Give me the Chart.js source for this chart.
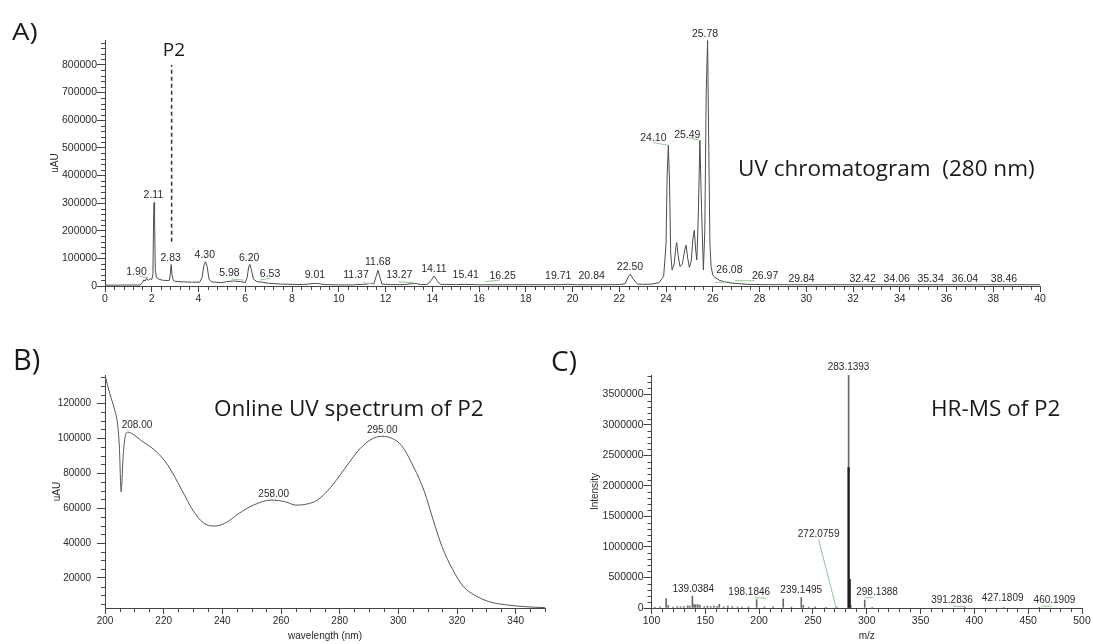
<!DOCTYPE html>
<html><head><meta charset="utf-8">
<script src="https://cdn.jsdelivr.net/npm/chart.js@4/dist/chart.umd.min.js"></script>
<style>
html,body{margin:0;padding:0;background:#fff;width:1093px;height:644px;overflow:hidden;position:relative}
canvas{position:absolute;z-index:0}
.big{position:absolute;z-index:2;font-family:"Open Sans",sans-serif;color:#1a1a1a;white-space:nowrap;line-height:1.4;padding-top:0}
</style></head><body>
<canvas id="cA" width="1093" height="320" style="left:0;top:0"></canvas>
<canvas id="cB" width="560" height="314" style="left:0;top:330px"></canvas>
<canvas id="cC" width="533" height="314" style="left:560px;top:330px"></canvas>
<div class="big" style="left:12px;top:15.2px;font-size:23px;transform-origin:0 50%;transform:scaleX(1.2)">A)</div>
<div class="big" style="left:13px;top:338.5px;font-size:29px">B)</div>
<div class="big" style="left:551px;top:341.2px;font-size:28px">C)</div>
<div class="big" style="left:738px;top:151.5px;font-size:22.5px">UV chromatogram&nbsp;&nbsp;(280 nm)</div>
<div class="big" style="left:214px;top:392.2px;font-size:22.5px">Online UV spectrum of P2</div>
<div class="big" style="left:931px;top:392.2px;font-size:22.5px">HR-MS of P2</div>
<script>
// ---------- Panel A: UV chromatogram (280 nm) ----------
const chromTime = [0,1.5,1.6,1.66,1.72,1.78,1.85,1.92,2.0,2.05,2.08,2.10,2.12,2.15,2.2,2.3,2.45,2.6,2.75,2.79,2.83,2.87,2.92,3.0,3.3,3.7,4.05,4.15,4.23,4.30,4.37,4.45,4.55,5.0,5.2,5.5,5.8,6.0,6.08,6.15,6.20,6.26,6.35,6.5,6.7,7.0,7.5,8.0,8.5,8.9,9.1,9.4,10,10.6,11.2,11.4,11.5,11.6,11.68,11.75,11.85,12.2,12.8,13.1,13.3,13.5,13.8,13.95,14.08,14.2,14.35,15.0,15.4,16.0,17,18,19.5,19.8,20.2,21,22.0,22.25,22.4,22.47,22.6,22.78,23.0,23.4,23.7,23.9,24.0,24.05,24.10,24.15,24.2,24.26,24.35,24.42,24.46,24.52,24.6,24.7,24.8,24.86,24.93,25.0,25.08,25.15,25.21,25.27,25.32,25.38,25.45,25.52,25.6,25.66,25.72,25.78,25.83,25.88,25.93,26.0,26.1,26.3,26.6,27.0,27.5,28.0,30,35,40];
const chromUAU = [3000,3500,12000,22000,18000,28000,20000,26000,24000,40000,250000,302000,260000,60000,30000,25000,21000,20000,20000,40000,78000,40000,20000,17000,15000,14000,14000,30000,75000,88000,70000,25000,15000,12000,16000,18000,16000,12000,30000,70000,78000,60000,25000,16000,14000,10000,7000,6000,5000,9000,9000,5000,4000,4000,7000,10000,8000,35000,57000,35000,7000,5000,5000,8000,9000,5000,6000,20000,36000,20000,6000,5000,6000,4500,4500,4500,5000,6000,4500,4500,5000,8000,35000,43000,25000,7000,6000,7000,12000,35000,150000,400000,509000,380000,120000,58000,80000,140000,157000,110000,70000,80000,130000,148000,100000,67000,90000,170000,202000,130000,94000,250000,527000,280000,58000,200000,700000,888000,500000,150000,70000,40000,30000,20000,13000,9000,6000,5000,4500,4500,4500];
const chromLabelText = ['1.90','2.11','2.83','4.30','5.98','6.20','6.53','9.01','11.37','11.68','13.27','14.11','15.41','16.25','19.71','20.84','22.50','24.10','25.49','25.78','26.08','26.97','29.84','32.42','34.06','35.34','36.04','38.46'];
const chromLabelTime = [1.35,2.07,2.81,4.27,5.32,6.17,7.06,8.98,10.74,11.67,12.59,14.07,15.43,17.01,19.39,20.82,22.46,23.46,24.91,25.67,26.71,28.24,29.80,32.41,33.87,35.32,36.79,38.46];
const chromLabelUAU = [39700,320000,90000,102000,36000,90000,33600,29000,30000,76000,28000,52000,30000,24000,24000,24000,58000,523000,537000,902000,48000,24000,15500,15500,15500,15500,15500,15500];
// leader lines from a label to its peak: [time0, uAU0] -> [time1, uAU1]
const chromLeaderT0 = [1.45,5.42,6.63,11.05,12.55,16.26,23.46,24.95,26.10,26.95];
const chromLeaderV0 = [36000,25000,21600,12000,15500,15500,519000,537000,12000,19000];
const chromLeaderT1 = [1.85,5.92,7.06,11.55,13.19,16.90,24.10,25.45,26.67,27.80];
const chromLeaderV1 = [30000,21600,27800,6000,12000,21600,509000,527000,15500,19000];
const chromTimeTicks = [0,2,4,6,8,10,12,14,16,18,20,22,24,26,28,30,32,34,36,38,40];
const chromUAUTicks = [0,100000,200000,300000,400000,500000,600000,700000,800000];
const p2Time = 2.85, p2From = 160000, p2To = 800000;

// ---------- Panel B: online UV spectrum of P2 ----------
const specWavelength = [200,201.6,203.3,204.3,204.9,205.5,206.2,206.9,207.6,212.9,217.7,221.4,226.2,229.9,233.5,237.2,240.8,245.7,250.6,256.6,261.5,265.1,268.8,272.4,276.1,279.7,283.4,287,290.7,294.3,298,301,305.2,308.9,311.9,314.9,318.6,322.2,325.9,330.8,336.8,342.9,350];
const specUAU = [136000,125700,116200,108000,95000,69300,90000,101000,103500,98000,92000,84600,70300,58900,51600,49700,51200,57000,61700,64600,63600,61700,62300,64600,70300,77900,86500,94100,99300,101100,99800,96000,83600,69300,53100,37900,24600,15000,10300,6500,4600,3600,3000];
const specLabelText = ['208.00','258.00','295.00'];
const specLabelWl = [210.9,257.5,294.5];
const specLabelUAU = [105700,66500,103200];
const specWlTicks = [200,220,240,260,280,300,320,340];
const specUAUTicks = [20000,40000,60000,80000,100000,120000];

// ---------- Panel C: HR-MS of P2 ----------
const msMz = [103,108,113.6,115.5,120,124,127,130,133.6,135.5,138.0,139.5,141,143,145,149,152,155,158,161,163,167,171,175,180,184,190,197.7,205,213,222.4,230,239.2,241,246,252,262,272.1,283.14,285.1,298.14,305,391.3,427.2,460.2];
const msIntensity = [15000,20000,155000,40000,15000,25000,20000,25000,35000,30000,195000,60000,50000,55000,45000,25000,30000,25000,30000,25000,60000,20000,30000,25000,20000,15000,20000,140000,20000,20000,150000,15000,170000,45000,15000,20000,10000,15000,3818000,40000,130000,10000,10000,10000,10000];
const msDarkMz = [283.14,284.14];
const msDarkIntensity = [2300000,470000];
const msLabelText = ['283.1393','272.0759','139.0384','198.1846','239.1495','298.1388','391.2836','427.1809','460.1909'];
const msLabelMz = [283.1,255.3,138.8,190.8,239.1,309.6,379.2,426.3,474.4];
const msLabelIntensity = [3892000,1165000,262000,208000,246000,208000,88600,115000,88600];
const msLeaderMz0 = [255.3,196.0,298.5,380.0,462.0];
const msLeaderI0 = [1120000,170000,170000,30000,30000];
const msLeaderMz1 = [271.6,207.0,306.0,392.0,472.0];
const msLeaderI1 = [0,160000,170000,20000,30000];
const msMzTicks = [100,150,200,250,300,350,400,450,500];
const msIntensityTicks = [0,500000,1000000,1500000,2000000,2500000,3000000,3500000];

// ---------- helpers ----------
const FAM = '"Liberation Sans", Arial, sans-serif';
const TXT = '#2a2a2a', AX = '#444', LEAD = '#97c597';

function overlay(cfg){
  return {
    id:'overlay',
    afterDatasetsDraw(chart){
      const ctx = chart.ctx, xs = chart.scales.x, ys = chart.scales.y;
      ctx.save();
      ctx.strokeStyle = AX; ctx.lineWidth = 1;
      const minor = (min, max, step, major, fn) => {
        const start = Math.ceil(min/step - 1e-9);
        const end = Math.floor(max/step + 1e-9);
        for (let i = start; i <= end; i++) {
          const v = i*step;
          if (Math.abs(v/major - Math.round(v/major)) < 1e-6) continue;
          fn(v);
        }
      };
      ctx.beginPath();
      minor(xs.min, xs.max, cfg.xMinor, cfg.xMajor, v => {
        const p = Math.round(xs.getPixelForValue(v)) + 0.5;
        ctx.moveTo(p, ys.bottom); ctx.lineTo(p, ys.bottom + 4);
      });
      minor(ys.min, ys.max, cfg.yMinor, cfg.yMajor, v => {
        const p = Math.round(ys.getPixelForValue(v)) + 0.5;
        ctx.moveTo(xs.left, p); ctx.lineTo(xs.left - 4, p);
      });
      ctx.stroke();
      (cfg.lines || []).forEach(l => {
        ctx.beginPath();
        ctx.setLineDash(l.dash || []);
        ctx.strokeStyle = l.color; ctx.lineWidth = l.width;
        ctx.moveTo(xs.getPixelForValue(l.x0), ys.getPixelForValue(l.y0));
        ctx.lineTo(xs.getPixelForValue(l.x1), ys.getPixelForValue(l.y1));
        ctx.stroke();
      });
      ctx.setLineDash([]);
      ctx.textAlign = 'center'; ctx.textBaseline = 'alphabetic';
      (cfg.labels || []).forEach(l => {
        ctx.font = (l.size || 10.5) + 'px ' + (l.family || FAM);
        ctx.fillStyle = l.color || TXT;
        ctx.fillText(l.text, xs.getPixelForValue(l.x), ys.getPixelForValue(l.y));
      });
      ctx.restore();
    }
  };
}

function axisX(min, max, ticks, h, title, fs){
  return {
    type:'linear', min, max, offset:false,
    afterFit: s => { s.height = h; },
    afterBuildTicks: s => { s.ticks = ticks.map(v => ({value:v})); },
    border:{display:true, color:AX, width:1},
    grid:{display:true, drawOnChartArea:false, drawTicks:true, tickLength:6, color:AX, offset:false},
    ticks:{autoSkip:false, maxRotation:0, font:{family:FAM, size:fs}, color:TXT, padding:1, callback:v => String(v)},
    title: title ? {display:true, text:title, font:{family:FAM, size:10}, color:TXT, padding:{top:0,bottom:2}} : {display:false}
  };
}
function axisY(min, max, ticks, w, title, tpad, fs, lpad){
  return {
    type:'linear', min, max,
    afterFit: s => { s.width = w; },
    afterBuildTicks: s => { s.ticks = ticks.map(v => ({value:v})); },
    border:{display:true, color:AX, width:1},
    grid:{display:true, drawOnChartArea:false, drawTicks:true, tickLength:8, color:AX},
    ticks:{autoSkip:false, font:{family:FAM, size:fs}, color:TXT, padding:lpad, callback:v => String(v)},
    title:{display:true, text:title, font:{family:FAM, size:10}, color:TXT, padding:{top:tpad, bottom:0}}
  };
}
const base = {responsive:false, animation:false, events:[], plugins:{legend:{display:false}, tooltip:{enabled:false}}};

// Panel A
new Chart(document.getElementById('cA'), {
  type:'line',
  data:{datasets:[{data:chromTime.map((t,i)=>({x:t, y:chromUAU[i]})), borderColor:'#4d4d4d', borderWidth:1, pointRadius:0, tension:0}]},
  options:Object.assign({}, base, {
    layout:{padding:{top:40, right:53, left:0, bottom:0}},
    scales:{ x:axisX(0, 40, chromTimeTicks, 34, null, 10.5), y:axisY(0, 890000, chromUAUTicks, 105, 'uAU', 49, 10.5, 0) }
  }),
  plugins:[overlay({
    xMinor:0.4, xMajor:2, yMinor:20000, yMajor:100000,
    lines:[{x0:p2Time, x1:p2Time, y0:p2From, y1:p2To, color:'#333', width:1.5, dash:[4,3]}]
      .concat(chromLeaderT0.map((t,i)=>({x0:t, y0:chromLeaderV0[i], x1:chromLeaderT1[i], y1:chromLeaderV1[i], color:LEAD, width:1}))),
    labels: chromLabelText.map((t,i)=>({text:t, x:chromLabelTime[i], y:chromLabelUAU[i]}))
      .concat([{text:'P2', x:2.95, y:832000, size:19, family:'"Open Sans", sans-serif', color:'#1a1a1a'}])
  })]
});

// Panel B
new Chart(document.getElementById('cB'), {
  type:'line',
  data:{datasets:[{data:specWavelength.map((w,i)=>({x:w, y:specUAU[i]})), borderColor:'#555', borderWidth:1, pointRadius:0, cubicInterpolationMode:'monotone'}]},
  options:Object.assign({}, base, {
    layout:{padding:{top:45, right:15, left:0, bottom:0}},
    scales:{ x:axisX(200, 350, specWlTicks, 36, 'wavelength (nm)', 10), y:axisY(2800, 136200, specUAUTicks, 105, 'uAU', 51, 10, 6) }
  }),
  plugins:[overlay({
    xMinor:5, xMajor:20, yMinor:5000, yMajor:20000,
    labels: specLabelText.map((t,i)=>({text:t, x:specLabelWl[i], y:specLabelUAU[i], size:10}))
  })]
});

// Panel C
new Chart(document.getElementById('cC'), {
  type:'bar',
  data:{datasets:[
    {data:msMz.map((m,i)=>({x:m, y:msIntensity[i]})), backgroundColor:'#6a6a6a', barThickness:1, grouped:false, order:2},
    {data:msDarkMz.map((m,i)=>({x:m, y:msDarkIntensity[i]})), backgroundColor:'#1e1e1e', barThickness:1.6, grouped:false, order:1}
  ]},
  options:Object.assign({}, base, {
    layout:{padding:{top:45, right:11, left:0, bottom:0}},
    scales:{ x:axisX(100, 500, msMzTicks, 36, 'm/z', 10.5), y:axisY(0, 3818000, msIntensityTicks, 91.5, 'Intensity', 29.7, 10.5, 0) }
  }),
  plugins:[overlay({
    xMinor:10, xMajor:50, yMinor:100000, yMajor:500000,
    lines: msLeaderMz0.map((m,i)=>({x0:m, y0:msLeaderI0[i], x1:msLeaderMz1[i], y1:msLeaderI1[i], color:LEAD, width:1})),
    labels: msLabelText.map((t,i)=>({text:t, x:msLabelMz[i], y:msLabelIntensity[i], size:10}))
  })]
});
</script>
</body></html>
